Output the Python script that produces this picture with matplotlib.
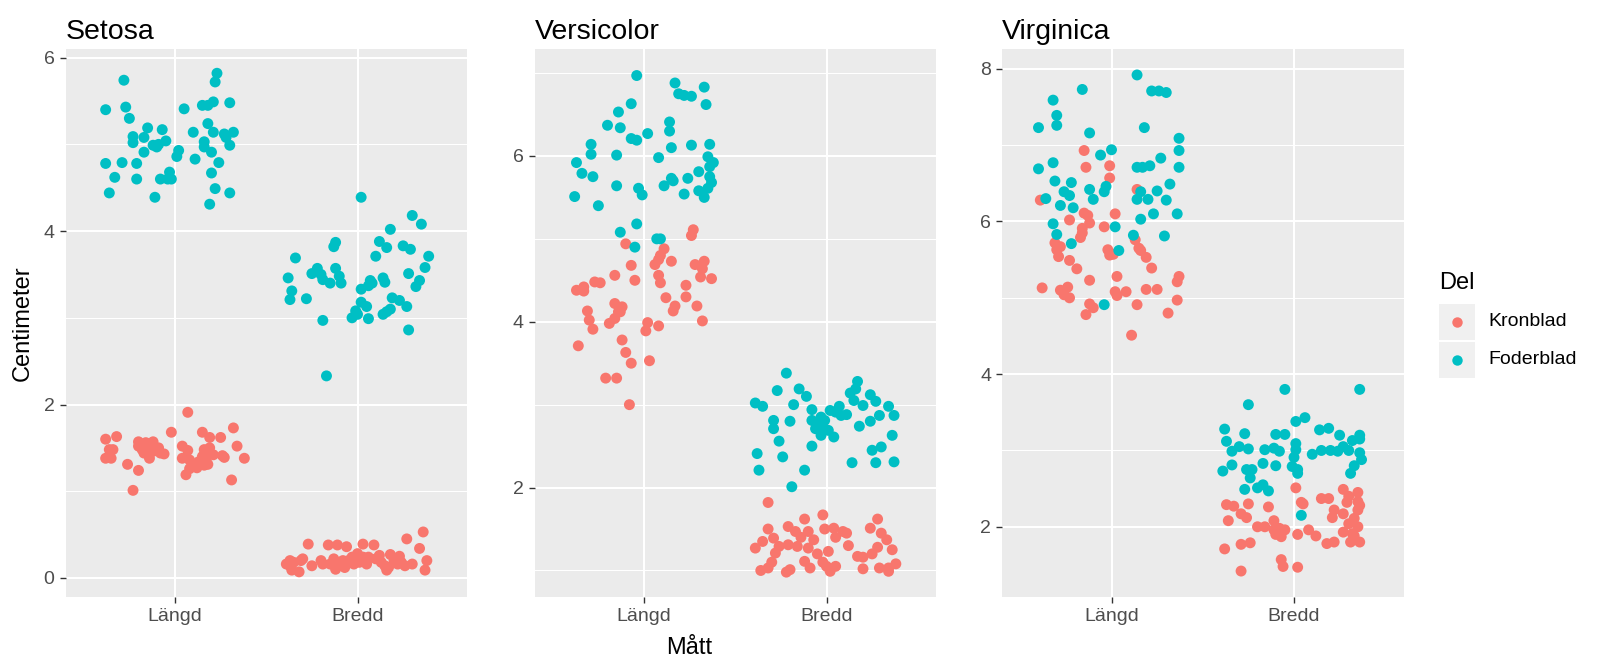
import matplotlib
matplotlib.use("Agg")
import matplotlib.pyplot as plt
from matplotlib.patches import Rectangle
from matplotlib.lines import Line2D

# jittered points: (offset from category centre, centimeter)
setosa_foder_langd = [(-0.28, 5.74), (0.23, 5.82), (0.22, 5.72), (-0.38, 5.40), (-0.27, 5.43), (-0.25, 5.30),
                      (0.05, 5.41), (0.15, 5.45), (0.18, 5.45), (0.21, 5.49), (0.30, 5.48), (-0.15, 5.19),
                      (-0.07, 5.17), (-0.23, 5.09), (-0.23, 5.02), (-0.17, 5.08), (-0.12, 4.99), (-0.09, 5.00),
                      (-0.05, 5.04), (-0.17, 4.91), (0.02, 4.93), (0.01, 4.86), (0.10, 5.14), (0.18, 5.24),
                      (0.21, 5.14), (0.16, 5.03), (0.16, 4.97), (0.20, 4.91), (0.28, 5.08), (0.32, 5.14),
                      (0.30, 4.99), (-0.38, 4.78), (-0.29, 4.79), (-0.21, 4.78), (0.11, 4.83), (0.24, 4.79),
                      (-0.33, 4.62), (-0.21, 4.60), (-0.08, 4.60), (-0.03, 4.68), (-0.02, 4.60), (0.20, 4.67),
                      (-0.36, 4.44), (-0.11, 4.39), (0.22, 4.49), (0.30, 4.44), (0.19, 4.31), (-0.10, 4.97),
                      (-0.04, 4.60), (0.27, 5.12)]
setosa_kron_langd = [(0.07, 1.91), (-0.02, 1.68), (-0.38, 1.60), (-0.32, 1.63), (-0.34, 1.48), (-0.38, 1.38),
                     (-0.35, 1.38), (-0.26, 1.31), (-0.20, 1.24), (-0.23, 1.01), (-0.20, 1.57), (-0.16, 1.56),
                     (-0.12, 1.57), (-0.18, 1.48), (-0.14, 1.47), (-0.09, 1.50), (-0.06, 1.43), (-0.14, 1.38),
                     (-0.17, 1.44), (0.04, 1.52), (0.07, 1.47), (0.04, 1.38), (0.15, 1.68), (0.19, 1.62),
                     (0.25, 1.62), (0.32, 1.73), (0.34, 1.52), (0.38, 1.38), (0.16, 1.48), (0.18, 1.46),
                     (0.15, 1.40), (0.17, 1.36), (0.21, 1.42), (0.26, 1.41), (0.27, 1.39), (0.10, 1.30),
                     (0.08, 1.26), (0.12, 1.27), (0.16, 1.30), (0.18, 1.31), (0.06, 1.19), (0.31, 1.13),
                     (0.13, 1.34), (0.19, 1.50), (-0.12, 1.46), (-0.20, 1.52), (-0.36, 1.48), (0.08, 1.36),
                     (0.16, 1.42), (-0.08, 1.44)]
setosa_foder_bredd = [(0.02, 4.39), (0.30, 4.18), (0.35, 4.08), (0.18, 4.02), (-0.12, 3.87), (-0.13, 3.82),
                      (0.12, 3.88), (0.16, 3.81), (0.25, 3.83), (0.29, 3.79), (0.39, 3.71), (-0.34, 3.69),
                      (0.10, 3.71), (0.37, 3.58), (-0.22, 3.57), (-0.25, 3.51), (-0.12, 3.57), (-0.19, 3.44),
                      (-0.15, 3.40), (-0.10, 3.48), (-0.09, 3.40), (-0.38, 3.46), (-0.36, 3.31), (-0.37, 3.21),
                      (-0.28, 3.22), (0.28, 3.51), (0.34, 3.43), (0.32, 3.36), (0.07, 3.43), (0.14, 3.46),
                      (0.15, 3.41), (0.02, 3.33), (0.06, 3.37), (0.02, 3.18), (0.05, 3.13), (-0.01, 3.08),
                      (-0.03, 3.00), (0.06, 2.99), (0.19, 3.23), (0.23, 3.20), (0.27, 3.13), (0.18, 3.10),
                      (0.14, 3.04), (-0.19, 2.97), (0.28, 2.86), (-0.17, 2.33), (-0.20, 3.50), (0.00, 3.04),
                      (0.16, 3.07), (0.08, 3.40)]
setosa_kron_bredd = [(0.36, 0.53), (0.27, 0.45), (-0.27, 0.39), (-0.16, 0.38), (-0.11, 0.38), (-0.06, 0.36),
                     (0.03, 0.39), (0.09, 0.38), (0.34, 0.34), (0.12, 0.26), (0.18, 0.27), (0.23, 0.25),
                     (0.00, 0.28), (0.03, 0.24), (0.06, 0.24), (0.38, 0.20), (-0.39, 0.16), (-0.35, 0.18),
                     (-0.31, 0.20), (-0.36, 0.09), (-0.19, 0.16), (-0.15, 0.16), (-0.10, 0.18), (-0.05, 0.20),
                     (-0.02, 0.16), (0.01, 0.18), (0.05, 0.16), (0.15, 0.14), (0.17, 0.12), (0.22, 0.16),
                     (0.26, 0.14), (0.37, 0.09), (0.16, 0.09), (-0.12, 0.10), (-0.07, 0.12), (-0.32, 0.07),
                     (-0.37, 0.14), (-0.25, 0.14), (-0.30, 0.22), (-0.20, 0.20), (-0.13, 0.22), (-0.03, 0.24),
                     (0.05, 0.20), (0.10, 0.22), (0.20, 0.20), (0.24, 0.18), (0.30, 0.16), (-0.37, 0.20),
                     (0.13, 0.18), (-0.08, 0.20)]

versicolor_foder_langd = [(-0.04, 6.97), (0.17, 6.88), (0.33, 6.83), (0.19, 6.75), (0.22, 6.73), (0.26, 6.72),
                          (0.34, 6.62), (-0.07, 6.63), (-0.14, 6.53), (-0.20, 6.37), (-0.13, 6.34), (0.14, 6.41),
                          (0.14, 6.30), (0.02, 6.27), (-0.07, 6.21), (-0.04, 6.19), (0.15, 6.10), (0.26, 6.13),
                          (0.36, 6.14), (-0.29, 6.14), (-0.29, 6.02), (-0.15, 6.01), (0.08, 5.98), (-0.37, 5.92),
                          (-0.34, 5.79), (-0.28, 5.75), (-0.15, 5.64), (-0.03, 5.61), (-0.01, 5.53), (0.11, 5.64),
                          (0.15, 5.73), (0.16, 5.70), (0.24, 5.73), (0.30, 5.81), (0.35, 5.99), (0.36, 5.87),
                          (0.36, 5.75), (0.35, 5.61), (0.33, 5.50), (0.22, 5.54), (-0.38, 5.51), (-0.25, 5.40),
                          (-0.04, 5.18), (-0.13, 5.08), (0.07, 5.00), (0.09, 5.00), (-0.05, 4.90), (0.37, 5.68),
                          (0.30, 5.58), (0.38, 5.92)]
versicolor_kron_langd = [(0.27, 5.11), (0.26, 5.04), (-0.10, 4.94), (0.11, 4.88), (0.09, 4.80), (0.08, 4.75),
                         (0.06, 4.69), (0.15, 4.73), (-0.07, 4.68), (0.28, 4.69), (0.33, 4.73), (0.32, 4.64),
                         (0.31, 4.54), (0.37, 4.52), (-0.16, 4.56), (-0.05, 4.50), (0.08, 4.56), (0.09, 4.47),
                         (0.23, 4.44), (-0.37, 4.38), (-0.33, 4.42), (-0.33, 4.37), (-0.27, 4.48), (-0.24, 4.47),
                         (0.12, 4.29), (0.23, 4.30), (0.17, 4.19), (0.16, 4.13), (0.29, 4.19), (0.32, 4.01),
                         (-0.16, 4.22), (-0.12, 4.18), (-0.14, 4.12), (-0.16, 4.04), (-0.19, 3.98), (-0.31, 4.13),
                         (-0.30, 4.02), (-0.28, 3.91), (0.02, 3.99), (0.08, 3.95), (0.01, 3.89), (-0.36, 3.71),
                         (-0.12, 3.78), (-0.10, 3.63), (-0.07, 3.50), (0.03, 3.53), (-0.21, 3.32), (-0.15, 3.32),
                         (-0.08, 3.00), (-0.13, 4.12)]
versicolor_foder_bredd = [(-0.22, 3.38), (-0.27, 3.17), (-0.15, 3.19), (-0.11, 3.10), (-0.39, 3.02), (-0.35, 2.98),
                          (-0.18, 3.00), (-0.29, 2.81), (-0.29, 2.71), (-0.20, 2.80), (-0.26, 2.56), (-0.38, 2.41),
                          (-0.24, 2.37), (-0.37, 2.21), (-0.12, 2.21), (-0.08, 2.50), (-0.19, 2.01), (-0.08, 2.94),
                          (-0.08, 2.81), (-0.06, 2.71), (-0.03, 2.85), (-0.01, 2.81), (-0.02, 2.71), (0.01, 2.69),
                          (0.04, 2.61), (0.02, 2.93), (0.05, 2.91), (0.07, 2.98), (0.11, 2.88), (0.08, 2.87),
                          (0.17, 3.28), (0.16, 3.19), (0.13, 3.14), (0.15, 3.05), (0.20, 2.99), (0.24, 3.12),
                          (0.27, 3.04), (0.34, 2.98), (0.29, 2.87), (0.24, 2.80), (0.18, 2.74), (0.36, 2.63),
                          (0.25, 2.45), (0.30, 2.49), (0.27, 2.30), (0.14, 2.30), (0.37, 2.31), (-0.03, 2.63),
                          (0.37, 2.87), (-0.05, 2.79)]
versicolor_kron_bredd = [(-0.32, 1.82), (-0.02, 1.67), (-0.12, 1.62), (0.28, 1.62), (0.24, 1.51), (0.33, 1.37),
                         (0.28, 1.28), (-0.01, 1.50), (0.04, 1.51), (0.09, 1.47), (0.11, 1.45), (-0.32, 1.50),
                         (-0.21, 1.53), (-0.17, 1.47), (-0.10, 1.47), (-0.07, 1.37), (-0.29, 1.39), (-0.35, 1.35),
                         (-0.39, 1.27), (-0.26, 1.29), (-0.21, 1.31), (-0.16, 1.29), (-0.10, 1.27), (-0.28, 1.21),
                         (0.01, 1.23), (0.17, 1.17), (0.20, 1.16), (-0.12, 1.11), (0.36, 1.25), (-0.32, 1.03),
                         (-0.20, 1.01), (-0.09, 1.03), (0.00, 1.05), (0.05, 1.05), (0.29, 1.03), (0.34, 1.03),
                         (-0.36, 1.00), (-0.22, 0.98), (0.02, 0.99), (0.20, 1.02), (0.34, 0.99), (0.38, 1.08),
                         (-0.05, 1.20), (0.12, 1.30), (-0.14, 1.40), (0.25, 1.20), (0.05, 1.40), (-0.30, 1.10),
                         (0.30, 1.45), (-0.02, 1.10)]

virginica_foder_langd = [(0.14, 7.92), (0.22, 7.71), (0.26, 7.71), (0.30, 7.69), (-0.16, 7.73), (-0.32, 7.59),
                         (-0.30, 7.39), (-0.30, 7.26), (-0.40, 7.23), (-0.12, 7.16), (0.18, 7.23), (0.37, 7.09),
                         (0.37, 6.93), (0.37, 6.71), (0.00, 6.94), (-0.06, 6.87), (0.27, 6.83), (-0.40, 6.69),
                         (-0.32, 6.77), (0.14, 6.71), (0.17, 6.71), (0.21, 6.73), (-0.31, 6.53), (-0.22, 6.51),
                         (-0.26, 6.39), (-0.23, 6.34), (-0.12, 6.42), (-0.03, 6.46), (-0.04, 6.39), (0.32, 6.49),
                         (0.16, 6.39), (-0.36, 6.30), (0.14, 6.29), (0.20, 6.29), (0.30, 6.28), (-0.10, 6.29),
                         (-0.28, 6.21), (-0.21, 6.18), (-0.32, 5.97), (-0.30, 5.83), (-0.22, 5.71), (0.02, 5.93),
                         (0.04, 5.62), (0.16, 6.03), (0.23, 6.10), (0.36, 6.10), (0.12, 5.82), (0.29, 5.81),
                         (-0.04, 4.91), (0.25, 6.40)]
virginica_kron_langd = [(-0.15, 6.93), (-0.14, 6.71), (-0.01, 6.73), (-0.01, 6.57), (0.14, 6.42), (-0.39, 6.28),
                        (-0.23, 6.02), (-0.15, 6.11), (-0.13, 6.08), (-0.12, 5.98), (-0.16, 5.91), (-0.17, 5.79),
                        (-0.04, 5.93), (0.02, 6.10), (-0.31, 5.72), (-0.28, 5.67), (-0.30, 5.63), (-0.29, 5.54),
                        (-0.23, 5.49), (-0.19, 5.38), (-0.12, 5.23), (-0.02, 5.63), (-0.01, 5.56), (0.01, 5.57),
                        (0.13, 5.76), (0.15, 5.65), (0.16, 5.62), (0.19, 5.53), (0.22, 5.39), (0.37, 5.28),
                        (0.36, 5.21), (0.03, 5.28), (-0.38, 5.13), (-0.28, 5.10), (-0.24, 5.14), (-0.23, 5.00),
                        (0.02, 5.08), (0.03, 5.03), (0.08, 5.08), (0.19, 5.11), (0.25, 5.11), (0.36, 4.97),
                        (-0.12, 4.92), (-0.10, 4.87), (-0.14, 4.78), (0.14, 4.91), (0.31, 4.80), (0.11, 4.51),
                        (-0.26, 5.04), (-0.16, 5.85)]
virginica_foder_bredd = [(-0.05, 3.80), (0.36, 3.80), (-0.25, 3.60), (0.01, 3.38), (0.06, 3.43), (-0.38, 3.28),
                         (-0.27, 3.22), (-0.10, 3.21), (-0.05, 3.21), (0.14, 3.27), (0.19, 3.29), (-0.37, 3.12),
                         (-0.34, 2.99), (-0.25, 3.02), (-0.16, 3.01), (-0.11, 3.03), (-0.08, 2.99), (0.01, 3.09),
                         (0.01, 3.01), (0.00, 2.91), (-0.01, 2.79), (0.02, 2.75), (0.02, 2.70), (0.15, 3.00),
                         (0.24, 2.99), (0.27, 3.05), (0.32, 3.13), (0.36, 3.15), (0.36, 2.97), (0.37, 2.88),
                         (0.31, 2.70), (-0.34, 2.81), (-0.39, 2.73), (-0.17, 2.83), (-0.26, 2.75), (-0.23, 2.75),
                         (-0.24, 2.64), (-0.27, 2.49), (-0.20, 2.51), (-0.17, 2.55), (-0.14, 2.47), (0.04, 2.15),
                         (0.30, 3.00), (0.33, 2.80), (0.36, 3.20), (0.25, 3.20), (-0.30, 3.05), (-0.10, 2.80),
                         (0.10, 2.95), (0.20, 3.00)]
virginica_kron_bredd = [(0.01, 2.51), (0.04, 2.32), (0.05, 2.30), (-0.37, 2.29), (-0.33, 2.27), (-0.25, 2.30),
                        (-0.14, 2.26), (-0.29, 2.17), (-0.26, 2.12), (-0.36, 2.08), (-0.16, 2.00), (-0.11, 2.08),
                        (-0.11, 1.96), (-0.08, 1.98), (-0.05, 1.96), (-0.10, 1.90), (-0.07, 1.87), (0.02, 1.90),
                        (0.08, 1.96), (0.12, 1.88), (0.15, 2.37), (0.19, 2.37), (0.27, 2.49), (0.29, 2.32),
                        (0.35, 2.45), (0.35, 2.33), (0.21, 2.12), (0.27, 2.17), (0.30, 2.04), (0.33, 2.11),
                        (0.35, 2.22), (0.35, 2.00), (0.36, 1.80), (0.31, 1.80), (0.18, 1.78), (0.22, 1.80),
                        (-0.38, 1.71), (-0.29, 1.77), (-0.24, 1.79), (-0.07, 1.57), (-0.06, 1.48), (0.02, 1.47),
                        (-0.29, 1.42), (0.27, 1.93), (0.32, 1.91), (0.33, 1.88), (0.36, 2.28), (0.22, 2.22),
                        (-0.20, 2.00), (0.30, 2.40)]

categories = ["Längd", "Bredd"]
parts = ["Kronblad", "Foderblad"]
titles = ["Setosa", "Versicolor", "Virginica"]
y_ticks = [[0, 2, 4, 6], [2, 4, 6], [2, 4, 6, 8]]
y_minor = [[1, 3, 5], [1, 3, 5, 7], [3, 5, 7]]
y_limits = [(-0.22, 6.10), (0.68, 7.29), (1.08, 8.26)]

RED = "#F8766D"
BLUE = "#00BFC4"
W, H = 1600, 671

plt.rcParams['font.family'] = ['Liberation Sans', 'DejaVu Sans']

panels = [
    {"kron": [setosa_kron_langd, setosa_kron_bredd], "foder": [setosa_foder_langd, setosa_foder_bredd]},
    {"kron": [versicolor_kron_langd, versicolor_kron_bredd], "foder": [versicolor_foder_langd, versicolor_foder_bredd]},
    {"kron": [virginica_kron_langd, virginica_kron_bredd], "foder": [virginica_foder_langd, virginica_foder_bredd]},
]
panel_left = [65.5, 534.5, 1002]
panel_width = 401.5
panel_top, panel_bottom = 49, 597


def draw_points(ax, groups, color):
    for i, pts in enumerate(groups):
        xs = [i + 1 + p[0] for p in pts]
        ys = [p[1] for p in pts]
        ax.scatter(xs, ys, s=62, color=color, edgecolors='none', zorder=3)


fig = plt.figure(figsize=(W / 100, H / 100), dpi=100)

for k in range(3):
    ax = fig.add_axes([panel_left[k] / W, 1 - panel_bottom / H, panel_width / W, (panel_bottom - panel_top) / H])
    ax.set_facecolor("#EBEBEB")
    for s in ax.spines.values():
        s.set_visible(False)
    draw_points(ax, panels[k]["kron"], RED)
    draw_points(ax, panels[k]["foder"], BLUE)
    ax.set_xlim(0.4, 2.6)
    ax.set_ylim(*y_limits[k])
    ax.set_xticks([1, 2])
    ax.set_xticklabels(categories)
    ax.set_yticks(y_ticks[k])
    ax.set_yticks(y_minor[k], minor=True)
    ax.grid(which='major', color='white', linewidth=1.5, zorder=0)
    ax.grid(which='minor', axis='y', color='white', linewidth=0.75, zorder=0)
    ax.set_axisbelow(True)
    ax.tick_params(which='major', length=4.4, width=1.0, color='#333333', labelcolor='#4D4D4D',
                   labelsize=14, pad=3.5)
    ax.tick_params(which='minor', length=0)
    ax.set_title(titles[k], loc='left', fontsize=20.5, pad=7, color='black')

fig.text(22.5 / W, 1 - 323 / H, "Centimeter", rotation=90, ha='center', va='center', fontsize=17)
fig.text(689 / W, 1 - 648 / H, "Mått", ha='center', va='center', fontsize=17)

# legend
fig.text(1439 / W, 1 - 283 / H, "Del", ha='left', va='center', fontsize=17)
key_tops = [304, 342]
for j, (label, col) in enumerate(zip(parts, [RED, BLUE])):
    top = key_tops[j]
    fig.add_artist(Rectangle((1439 / W, 1 - (top + 36) / H), 36 / W, 36 / H,
                             transform=fig.transFigure, facecolor="#F0F0F0", edgecolor='none'))
    fig.add_artist(Line2D([1457 / W], [1 - (top + 18) / H], transform=fig.transFigure,
                          marker='o', markersize=7.5, color=col, markeredgewidth=0, linestyle='none'))
    fig.text(1488 / W, 1 - (top + 18) / H, label, ha='left', va='center', fontsize=14)

fig.savefig("out.png", dpi=100)
